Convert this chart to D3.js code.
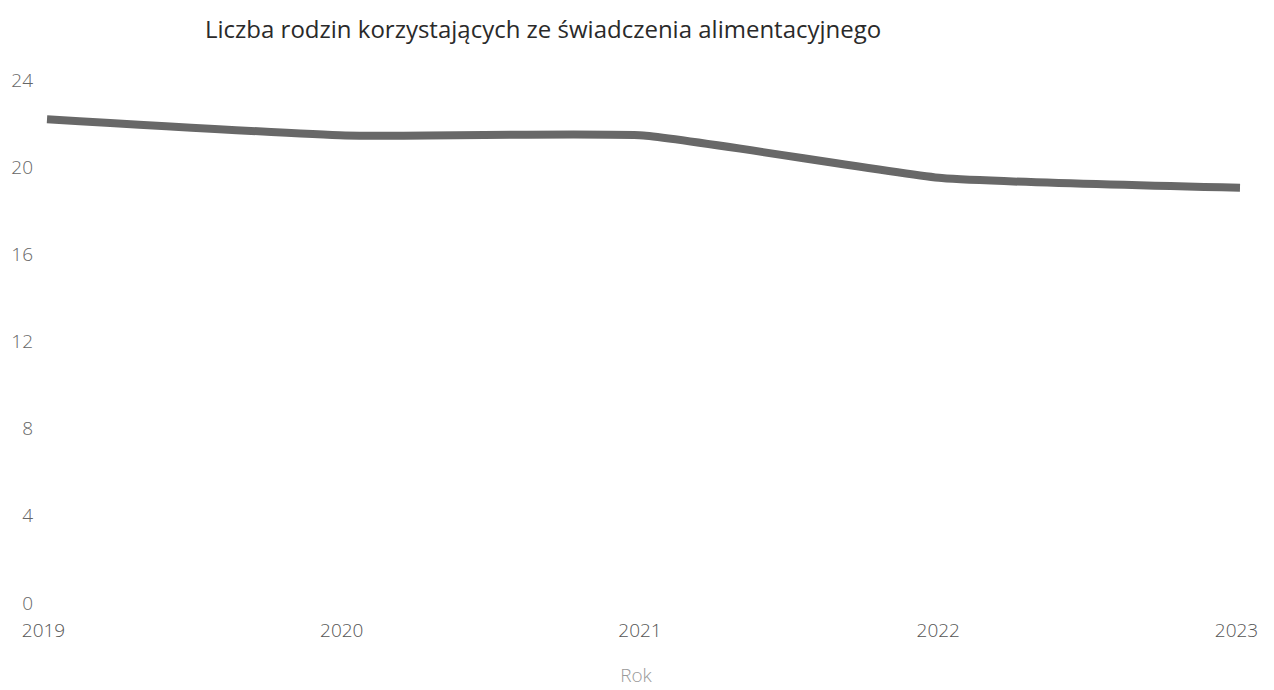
<!DOCTYPE html>
<html><head><meta charset="utf-8">
<script src="https://cdn.jsdelivr.net/npm/d3@7"></script>
<style>body{margin:0;background:#fff}svg{display:block}</style>
</head><body>
<script>
const years = ["2019","2020","2021","2022","2023"];
const values = [22.2, 21.45, 21.45, 19.5, 19.05];
const yTicks = [0,4,8,12,16,20,24];
const title = "Liczba rodzin korzystających ze świadczenia alimentacyjnego";
const xTitle = "Rok";

const W=1274,H=690;
const svg=d3.select("body").append("svg").attr("width",W).attr("height",H);
const x=d3.scalePoint().domain(years).range([47,1240]);
const y=d3.scaleLinear().domain([0,24]).range([603,80]);

svg.append("text").attr("x",205).attr("y",38).text(title)
  .attr("font-family","Open Sans").attr("font-size",24).attr("fill","#2a2a2a");

const ya=svg.append("g").attr("transform","translate(33,0)")
  .call(d3.axisLeft(y).tickValues(yTicks).tickSize(0).tickPadding(0));
ya.select(".domain").remove();
ya.selectAll("text").attr("font-family","Open Sans").attr("font-size",19).attr("font-weight",300).attr("fill","#666");

const xa=svg.append("g").attr("transform","translate(-4,623)")
  .call(d3.axisBottom(x).tickSize(0).tickPadding(0));
xa.select(".domain").remove();
xa.selectAll("text").attr("font-family","Open Sans").attr("font-size",19).attr("font-weight",300).attr("fill","#555");

svg.append("text").attr("x",636).attr("y",682).attr("text-anchor","middle").text(xTitle)
  .attr("font-family","Open Sans").attr("font-size",19).attr("font-weight",300).attr("fill","#999");

svg.append("path").datum(values)
  .attr("d",d3.line().x((d,i)=>x(years[i])).y(d=>y(d)).curve(d3.curveCardinal.tension(0.6)))
  .attr("fill","none").attr("stroke","#686868").attr("stroke-width",8);
</script>
</body></html>
